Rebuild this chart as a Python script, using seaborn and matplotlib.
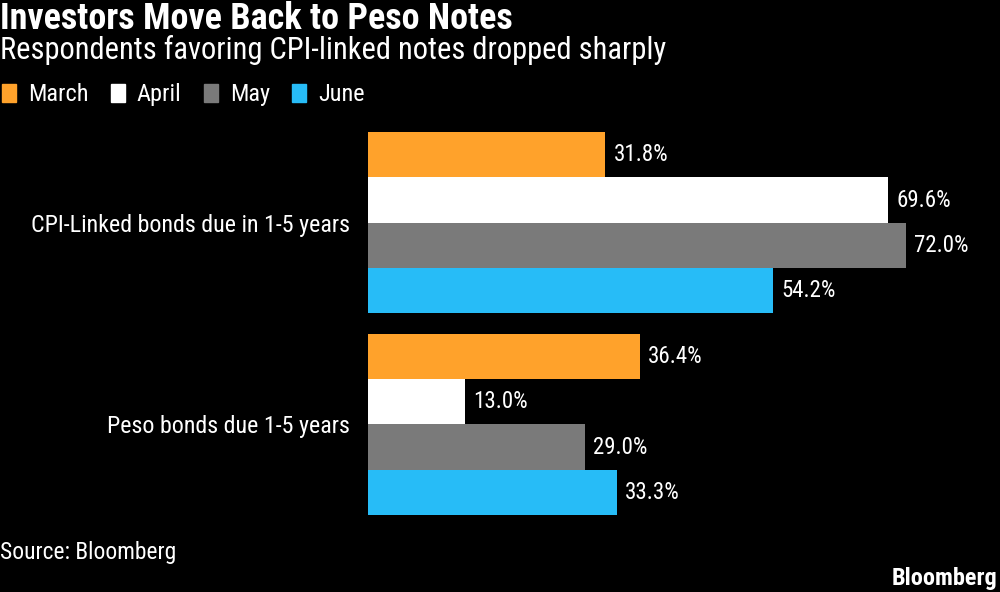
import pandas as pd
import matplotlib.pyplot as plt
import seaborn as sns

# data
categories = ["CPI-Linked bonds due in 1-5 years", "Peso bonds due 1-5 years"]
months = ["March", "April", "May", "June"]
cpi_linked = [31.8, 69.6, 72.0, 54.2]
peso = [36.4, 13.0, 29.0, 33.3]
colors = ["#FFA22B", "#FFFFFF", "#7A7A7A", "#27BCF7"]

rows = []
for m, v in zip(months, cpi_linked):
    rows.append({"category": categories[0], "month": m, "value": v})
for m, v in zip(months, peso):
    rows.append({"category": categories[1], "month": m, "value": v})
df = pd.DataFrame(rows)

sns.set_theme(style="dark")
plt.rcParams["font.family"] = ["Roboto Condensed", "DejaVu Sans"]
plt.rcParams["text.color"] = "white"

fig = plt.figure(figsize=(10, 5.92), dpi=100, facecolor="black")
ax = fig.add_axes([0.368, 0.130, 0.622, 0.647])
ax.set_facecolor("black")

sns.barplot(data=df, y="category", x="value", hue="month", hue_order=months,
            palette=colors, saturation=1, width=0.9, orient="h", ax=ax,
            edgecolor="none", linewidth=0, legend=False)

for cont in ax.containers:
    ax.bar_label(cont, labels=[f"{v:.1f}%" for v in cont.datavalues],
                 padding=6, color="white", fontsize=16.5)

ax.set_xlim(0, 83.3)
ax.set_ylim(1.45, -0.45)
ax.set_xlabel("")
ax.set_ylabel("")
ax.set_xticks([])
ax.tick_params(axis="y", length=0, pad=13, labelsize=17.3, labelcolor="white")
for s in ax.spines.values():
    s.set_visible(False)
ax.grid(False)

# titles
fig.text(0.0, 0.968, "Investors Move Back to Peso Notes", fontsize=26,
         fontweight="bold", va="center", ha="left")
fig.text(0.0, 0.915, "Respondents favoring CPI-linked notes dropped sharply",
         fontsize=22, va="center", ha="left")

# legend
handles = [plt.Rectangle((0, 0), 1, 1, color=c) for c in colors]
fig.legend(handles, months, loc="center left", bbox_to_anchor=(0.002, 0.84),
           ncol=4, frameon=False, fontsize=17.5, handlelength=0.58,
           handleheight=0.75, handletextpad=0.5, columnspacing=0.9,
           borderpad=0, borderaxespad=0, labelcolor="white")

fig.text(0.0, 0.067, "Source: Bloomberg", fontsize=16.9, va="center", ha="left")
fig.text(0.997, 0.022, "Bloomberg", fontsize=17.5, fontweight="bold",
         va="center", ha="right")

fig.savefig("out.png", dpi=100, facecolor="black")
